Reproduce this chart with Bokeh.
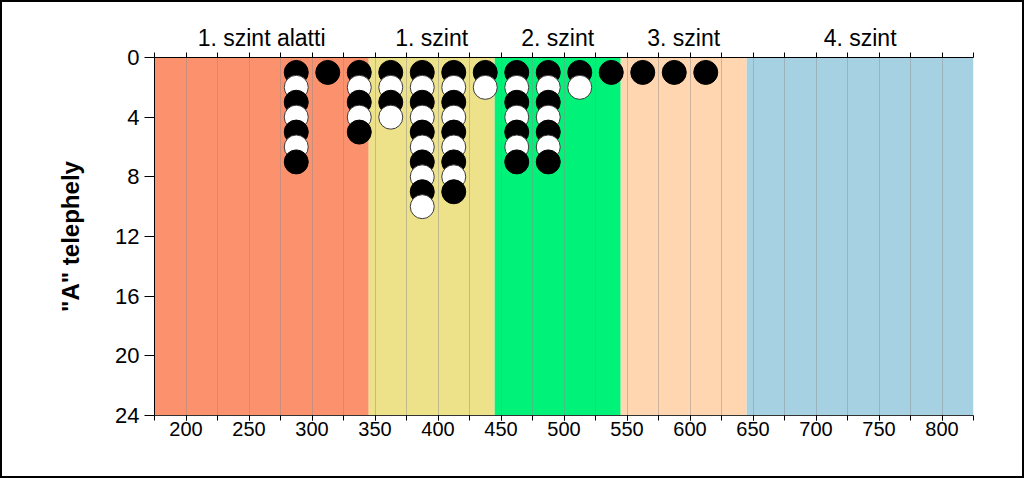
from bokeh.plotting import figure
from bokeh.models import Range1d, LinearAxis, FixedTicker, ColumnDataSource
from bokeh.embed import file_html
from bokeh.resources import INLINE

# ---- data ----
band_edges = [175, 345, 445, 545, 645, 825]
band_names = ["1. szint alatti", "1. szint", "2. szint", "3. szint", "4. szint"]
band_colors = ["#FC926D", "#EDE189", "#00F279", "#FFD6AF", "#A6D1E3"]

bin_centers = [287.5, 312.5, 337.5, 362.5, 387.5, 412.5, 437.5,
               462.5, 487.5, 512.5, 537.5, 562.5, 587.5, 612.5]
bin_counts = [7, 1, 5, 4, 10, 9, 2, 7, 7, 2, 1, 1, 1, 1]

x_tick_labels = [200, 250, 300, 350, 400, 450, 500, 550, 600, 650, 700, 750, 800]
y_tick_labels = [0, 4, 8, 12, 16, 20, 24]

FONT = "Liberation Sans"

# ---- figure ----
p = figure(width=1024, height=478, x_range=Range1d(175, 825), y_range=Range1d(24, 0),
           output_backend="svg", toolbar_location=None,
           min_border_left=152, min_border_right=53, min_border_top=55, min_border_bottom=65)
p.styles = {"border": "2px solid black"}
p.outline_line_color = None
p.background_fill_color = "white"
p.border_fill_color = "white"

# bands
p.quad(left=band_edges[:-1], right=band_edges[1:], bottom=24, top=0,
       fill_color=band_colors, line_color=None, level="image")

# grid
minor = list(range(175, 826, 25))
p.ygrid.visible = False
p.xgrid.ticker = FixedTicker(ticks=[t for t in minor if 175 < t < 825])
p.xgrid.grid_line_color = "#8c8c8c"
p.xgrid.grid_line_alpha = 0.45
p.xgrid.grid_line_width = 1

# dots: stacked 1..n, alternating black/white, drawn top to bottom
xs, ys, fills, lines = [], [], [], []
for c, n in zip(bin_centers, bin_counts):
    for k in range(1, n + 1):
        xs.append(c)
        ys.append(k)
        fills.append("black" if k % 2 == 1 else "white")
        lines.append("black" if k % 2 == 1 else "#3a3a3a")
src = ColumnDataSource(dict(x=xs, y=ys, fill=fills, line=lines))
p.scatter("x", "y", source=src, size=24, fill_color="fill", line_color="line", line_width=1)

# bottom axis
bx = p.below[0]
bx.ticker = FixedTicker(ticks=x_tick_labels, minor_ticks=minor)
bx.major_tick_in = 0
bx.major_tick_out = 5
bx.minor_tick_in = 0
bx.minor_tick_out = 5
bx.major_label_standoff = 1
bx.major_label_text_font = FONT
bx.major_label_text_font_size = "20px"
bx.major_label_text_color = "black"
bx.axis_line_color = "#333333"

# left axis
ly = p.left[0]
ly.ticker = FixedTicker(ticks=y_tick_labels, minor_ticks=[])
ly.major_tick_in = 0
ly.major_tick_out = 10
ly.minor_tick_out = 0
ly.major_label_standoff = 5
ly.major_label_text_font = FONT
ly.major_label_text_font_size = "22px"
ly.major_label_text_color = "black"
ly.axis_label = '"A" telephely'
ly.axis_label_text_font = FONT
ly.axis_label_text_font_style = "bold"
ly.axis_label_text_font_size = "24px"
ly.axis_label_text_color = "black"
ly.axis_label_standoff = 28

# top axis with band names
mids = [(band_edges[i] + band_edges[i + 1]) / 2 for i in range(len(band_names))]
tx = LinearAxis(ticker=FixedTicker(ticks=mids, minor_ticks=minor),
                major_label_overrides={m: n for m, n in zip(mids, band_names)})
tx.major_tick_in = 0
tx.major_tick_out = 0
tx.minor_tick_in = 0
tx.minor_tick_out = 5
tx.major_label_standoff = 2
tx.major_label_text_font = FONT
tx.major_label_text_font_size = "23px"
tx.major_label_text_color = "black"
p.add_layout(tx, "above")

open("out.html", "w").write(file_html(p, INLINE))
